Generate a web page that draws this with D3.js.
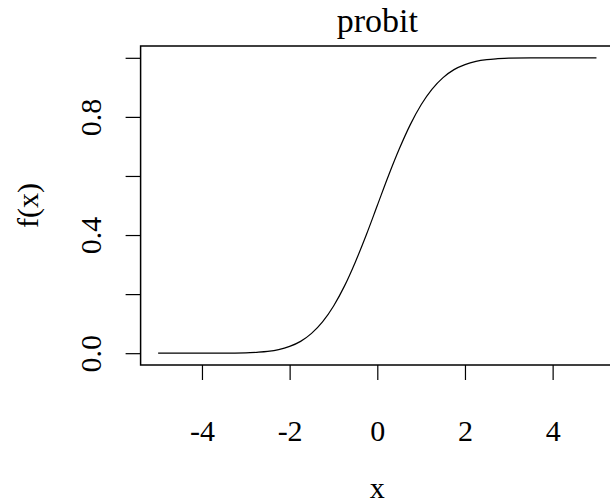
<!DOCTYPE html>
<html>
<head>
<meta charset="utf-8">
<script src="https://cdn.jsdelivr.net/npm/d3@7"></script>
<style>
  html, body { margin: 0; padding: 0; background: #fff; }
  svg { display: block; }
  text { font-family: "Liberation Serif", "DejaVu Serif", serif; fill: #000; }
</style>
</head>
<body>
<script>
// Standard normal CDF (probit link), sampled along x
const xValues = [-5, -4.5, -4, -3.5, -3, -2.75, -2.5, -2.25, -2, -1.75, -1.5, -1.25, -1,
                 -0.75, -0.5, -0.25, 0, 0.25, 0.5, 0.75, 1, 1.25, 1.5, 1.75, 2,
                 2.25, 2.5, 2.75, 3, 3.5, 4, 4.5, 5];
const fValues = [0.000, 0.000, 0.000, 0.000, 0.001, 0.003, 0.006, 0.012, 0.023, 0.040, 0.067, 0.106, 0.159,
                 0.227, 0.309, 0.401, 0.500, 0.599, 0.691, 0.773, 0.841, 0.894, 0.933, 0.960, 0.977,
                 0.988, 0.994, 0.997, 0.999, 1.000, 1.000, 1.000, 1.000];
const xTicks = [-4, -2, 0, 2, 4];
const yTicks = [0, 0.2, 0.4, 0.6, 0.8, 1.0];
const yTickLabels = ["0.0", "", "0.4", "", "0.8", ""];
const titleText = "probit";
const xLabel = "x";
const yLabel = "f(x)";

const W = 610, H = 504;
const plot = { left: 140.6, right: 614, top: 46, bottom: 365 };

const svg = d3.select("body").append("svg")
  .attr("width", W).attr("height", H);

const x = d3.scaleLinear().domain([-5.4, 5.4]).range([plot.left, plot.right]);
const y = d3.scaleLinear().domain([-0.04, 1.04]).range([plot.bottom, plot.top]);

// curve
const points = xValues.map((v, i) => [v, fValues[i]]);
svg.append("path")
  .datum(points)
  .attr("fill", "none")
  .attr("stroke", "#000")
  .attr("stroke-width", 1.2)
  .attr("d", d3.line().x(d => x(d[0])).y(d => y(d[1])).curve(d3.curveMonotoneX));

// frame
svg.append("rect")
  .attr("x", plot.left).attr("y", plot.top)
  .attr("width", plot.right - plot.left).attr("height", plot.bottom - plot.top)
  .attr("fill", "none").attr("stroke", "#000").attr("stroke-width", 1.5);

// x axis
const gx = svg.append("g")
  .attr("transform", `translate(0,${plot.bottom})`)
  .call(d3.axisBottom(x).tickValues(xTicks).tickSize(15).tickSizeOuter(0)
    .tickFormat(d => d3.format("d")(d).replace("−", "-")));
gx.select(".domain").remove();
gx.selectAll(".tick line").attr("stroke", "#000").attr("stroke-width", 1.2);
gx.selectAll(".tick text")
  .attr("y", 76).attr("dy", 0)
  .style("font-size", "30px");

// y axis
const gy = svg.append("g")
  .attr("transform", `translate(${plot.left},0)`)
  .call(d3.axisLeft(y).tickValues(yTicks).tickSize(15).tickSizeOuter(0)
    .tickFormat((d, i) => yTickLabels[i]));
gy.select(".domain").remove();
gy.selectAll(".tick line").attr("stroke", "#000").attr("stroke-width", 1.2);
gy.selectAll(".tick text")
  .attr("x", 0).attr("y", 0).attr("dy", 0)
  .attr("text-anchor", "middle")
  .attr("transform", "translate(-40,0) rotate(-90)")
  .style("font-size", "30px");

// title and axis titles
const cx = (plot.left + plot.right) / 2;
svg.append("text")
  .attr("x", cx).attr("y", 32)
  .attr("text-anchor", "middle")
  .style("font-size", "34px")
  .text(titleText);

svg.append("text")
  .attr("x", cx).attr("y", 498)
  .attr("text-anchor", "middle")
  .style("font-size", "30px")
  .text(xLabel);

svg.append("text")
  .attr("text-anchor", "middle")
  .attr("transform", `translate(38,${(plot.top + plot.bottom) / 2}) rotate(-90)`)
  .style("font-size", "30px")
  .text(yLabel);
</script>
</body>
</html>
